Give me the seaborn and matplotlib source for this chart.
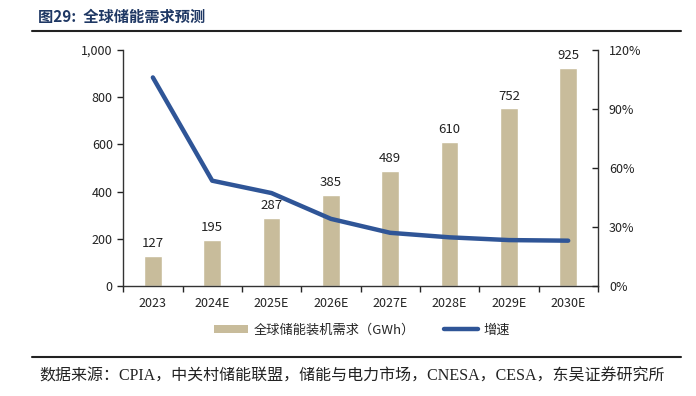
import numpy as np
import pandas as pd
import matplotlib
matplotlib.use("Agg")
import matplotlib.pyplot as plt
import seaborn as sns
from matplotlib.ticker import FuncFormatter, FixedLocator
from matplotlib.lines import Line2D
from matplotlib.patches import Patch

# 数据 / data
years = ["2023", "2024E", "2025E", "2026E", "2027E", "2028E", "2029E", "2030E"]
demand = [127, 195, 287, 385, 489, 610, 752, 925]
growth = [1.06, 0.535, 0.472, 0.341, 0.27, 0.247, 0.233, 0.23]

sns.set_style("white")
plt.rcParams['font.family'] = ['Noto Sans CJK SC', 'DejaVu Sans']

bar_color = "#C8BC9B"
line_color = "#2F5597"
title_color = "#1F3864"

df = pd.DataFrame({"year": years, "demand": demand, "growth": growth})

fig = plt.figure(figsize=(6.96, 3.96), dpi=100)
ax = fig.add_axes([0.177, 0.278, 0.682, 0.596])

sns.barplot(data=df, x="year", y="demand", color=bar_color, width=0.3,
            saturation=1, ax=ax)
ax.set_xlim(-0.5, 7.5)
ax.set_ylim(0, 1000)
ax.set_yticks(range(0, 1001, 200))
ax.yaxis.set_major_formatter(FuncFormatter(lambda v, p: f"{int(v):,}"))
ax.set_xlabel("")
ax.set_ylabel("")
for i, v in enumerate(demand):
    ax.text(i, v + 25, str(v), ha="center", va="bottom", fontsize=9.5, color="#222222")

ax2 = ax.twinx()
sns.lineplot(x=np.arange(len(years)), y=growth, color=line_color, linewidth=3.2,
             ax=ax2)
ax2.set_ylim(0, 1.2)
ax2.set_yticks([0, 0.3, 0.6, 0.9, 1.2])
ax2.yaxis.set_major_formatter(FuncFormatter(lambda v, p: f"{v*100:.0f}%"))

for a in (ax, ax2):
    a.spines["top"].set_visible(False)
    for s in ["left", "right", "bottom"]:
        a.spines[s].set_color("#333333")
        a.spines[s].set_linewidth(1)
    a.tick_params(labelsize=9, colors="#222222")
ax.spines["right"].set_visible(False)
ax2.spines["left"].set_visible(False)
ax2.spines["bottom"].set_visible(False)

ax.tick_params(axis="y", direction="out", length=4, width=1, left=True)
ax.tick_params(axis="x", length=0, pad=8)
ax.xaxis.set_minor_locator(FixedLocator(np.arange(-0.5, 8, 1)))
ax.tick_params(axis="x", which="minor", direction="out", length=4, width=1, bottom=True)
ax2.tick_params(axis="y", direction="in", length=4, width=1, right=True, pad=8)

handles = [Patch(facecolor=bar_color, edgecolor="none"),
           Line2D([0], [0], color=line_color, linewidth=3.2)]
fig.legend(handles, ["全球储能装机需求（GWh）", "增速"], loc="center",
           bbox_to_anchor=(0.52, 0.167), ncol=2, frameon=False, fontsize=9.5,
           handlelength=2.6, handletextpad=0.4, columnspacing=2.2, handleheight=0.6)

fig.text(0.055, 0.958, "图29:  全球储能需求预测", fontsize=11, fontweight="bold",
         color=title_color, va="center")
fig.add_artist(Line2D([0.046, 0.978], [0.922, 0.922], color="#222222", linewidth=1.5))
fig.add_artist(Line2D([0.046, 0.978], [0.098, 0.098], color="#222222", linewidth=1.5))
fig.text(0.057, 0.05, "数据来源：CPIA，中关村储能联盟，储能与电力市场，CNESA，CESA，东吴证券研究所",
         fontsize=11.5, color="#222222", va="center",
         family=['Liberation Serif', 'Noto Sans CJK SC'])

fig.savefig("out.png", dpi=100)
